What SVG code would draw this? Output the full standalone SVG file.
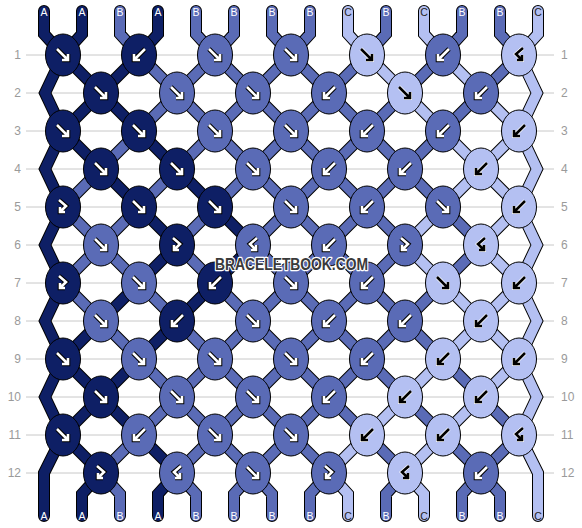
<svg xmlns="http://www.w3.org/2000/svg" xmlns:xlink="http://www.w3.org/1999/xlink" width="582" height="528" viewBox="0 0 582 528">
<style>
.grid line{stroke:#c8c8c8;stroke-width:1}
.num{font-family:"Liberation Sans",Arial,sans-serif;font-size:12px;fill:#9a9a9a}
.o{fill:none;stroke:#000;stroke-width:12;stroke-linecap:round;stroke-linejoin:miter}
.sA,.sB,.sC{fill:none;stroke-width:10;stroke-linecap:round;stroke-linejoin:miter}
.sA{stroke:#0e1f65}.sB{stroke:#5a6bb6}.sC{stroke:#b4c0f2}
.kA,.kB,.kC{stroke:#000;stroke-width:1}
.kA{fill:#0e1f65}.kB{fill:#5a6bb6}.kC{fill:#b4c0f2}
.ao{fill:none;stroke:#000;stroke-width:4.6;stroke-linejoin:miter;stroke-linecap:butt}
.aw{fill:none;stroke:#fff;stroke-width:2.6;stroke-linejoin:miter;stroke-linecap:butt}
.ko{fill:none;stroke:#fff;stroke-width:4;stroke-linejoin:miter;stroke-linecap:butt}
.kk{fill:none;stroke:#000;stroke-width:2.6;stroke-linejoin:miter;stroke-linecap:butt}
.lbl{font-family:"Liberation Sans",Arial,sans-serif;font-size:10.5px;text-anchor:middle;fill:#fff}
.lbl .d{fill:#222}
.wm{font-family:"Liberation Sans",Arial,sans-serif;font-weight:bold;font-size:16.5px;fill:#3a3a3a;stroke:#fff;stroke-width:2.5;paint-order:stroke;stroke-linejoin:round}
</style>
<defs>
<path id="af" d="M-6-6L5 5M-1 5H5V-1"/>
<path id="ab" d="M6-6L-5 5M1 5H-5V-1"/>
<path id="afb" d="M-4-7L3-1L-3 5M-3 0V5H2"/>
<path id="abf" d="M4-7L-3-1L3 5M3 0V5H-2"/>
<g id="fW"><use href="#af" class="ao"/><use href="#af" class="aw"/></g>
<g id="bW"><use href="#ab" class="ao"/><use href="#ab" class="aw"/></g>
<g id="fbW"><use href="#afb" class="ao"/><use href="#afb" class="aw"/></g>
<g id="bfW"><use href="#abf" class="ao"/><use href="#abf" class="aw"/></g>
<g id="fK"><use href="#af" class="ko"/><use href="#af" class="kk"/></g>
<g id="bK"><use href="#ab" class="ko"/><use href="#ab" class="kk"/></g>
<g id="fbK"><use href="#afb" class="ko"/><use href="#afb" class="kk"/></g>
<g id="bfK"><use href="#abf" class="ko"/><use href="#abf" class="kk"/></g>
<path id="pA" d="M44 11V34L63 55M82 11V34L63 55M158 11V34L139 55
M63 55L45 93L63 131L45 169L63 207L45 245L63 283L45 321L63 359L45 397L63 435L44 473V516
M63 55L101 93M139 55L101 93
M101 93L63 131M101 93L139 131
M63 131L101 169M139 131L177 169
M101 169L139 207M177 169L215 207
M139 207L177 245M215 207L253 245
M177 245L139 283M253 245L215 283
M139 283L101 321M215 283L177 321
M101 321L63 359M177 321L139 359
M63 359L101 397M139 359L101 397
M101 397L63 435M101 397L139 435
M63 435L101 473M139 435L177 473
M101 473L82 494V516M177 473L158 494V516"/>
<path id="pB" d="M120 11V34L139 55M196 11V34L215 55M234 11V34L215 55M272 11V34L291 55M310 11V34L291 55M386 11V34L367 55M462 11V34L443 55M500 11V34L519 55
M139 55L177 93M215 55L177 93M215 55L253 93M291 55L253 93M291 55L329 93M367 55L329 93M443 55L405 93M519 55L481 93
M177 93L139 131M177 93L215 131M253 93L215 131M253 93L291 131M329 93L291 131M329 93L367 131M405 93L367 131M481 93L443 131
M139 131L101 169M215 131L177 169M215 131L253 169M291 131L253 169M291 131L329 169M367 131L329 169M367 131L405 169M443 131L405 169
M101 169L63 207M177 169L139 207M253 169L215 207M253 169L291 207M329 169L291 207M329 169L367 207M405 169L367 207M405 169L443 207
M63 207L101 245M139 207L101 245M215 207L177 245M291 207L253 245M291 207L329 245M367 207L329 245M367 207L405 245M443 207L481 245
M101 245L63 283M101 245L139 283M177 245L215 283M253 245L291 283M329 245L291 283M329 245L367 283M405 245L367 283M481 245L443 283
M63 283L101 321M139 283L177 321M215 283L253 321M291 283L253 321M291 283L329 321M367 283L329 321M367 283L405 321M443 283L405 321
M101 321L139 359M177 321L215 359M253 321L215 359M253 321L291 359M329 321L291 359M329 321L367 359M405 321L367 359M405 321L443 359
M139 359L177 397M215 359L177 397M215 359L253 397M291 359L253 397M291 359L329 397M367 359L329 397M367 359L405 397M443 359L481 397
M177 397L139 435M177 397L215 435M253 397L215 435M253 397L291 435M329 397L291 435M329 397L367 435M405 397L443 435M481 397L519 435
M139 435L101 473M215 435L177 473M215 435L253 473M291 435L253 473M291 435L329 473M367 435L405 473M443 435L481 473M519 435L481 473
M101 473L120 494V516M177 473L196 494V516M253 473L234 494V516M253 473L272 494V516M329 473L310 494V516M405 473L386 494V516M481 473L462 494V516M481 473L500 494V516"/>
<path id="pC" d="M348 11V34L367 55M424 11V34L443 55M538 11V34L519 55
M519 55L537 93L519 131L537 169L519 207L537 245L519 283L537 321L519 359L537 397L519 435L538 473V516
M367 55L405 93M443 55L481 93
M405 93L443 131M481 93L519 131
M443 131L481 169M519 131L481 169
M481 169L443 207M481 169L519 207
M443 207L405 245M519 207L481 245
M405 245L443 283M481 245L519 283
M443 283L481 321M519 283L481 321
M481 321L443 359M481 321L519 359
M443 359L405 397M519 359L481 397
M405 397L367 435M481 397L443 435
M367 435L329 473M443 435L405 473
M329 473L348 494V516M405 473L424 494V516"/>
</defs>
<rect width="582" height="528" fill="#fff"/>
<g class="grid">
<line x1="26" x2="554" y1="55" y2="55"/><line x1="26" x2="554" y1="93" y2="93"/><line x1="26" x2="554" y1="131" y2="131"/><line x1="26" x2="554" y1="169" y2="169"/><line x1="26" x2="554" y1="207" y2="207"/><line x1="26" x2="554" y1="245" y2="245"/><line x1="26" x2="554" y1="283" y2="283"/><line x1="26" x2="554" y1="321" y2="321"/><line x1="26" x2="554" y1="359" y2="359"/><line x1="26" x2="554" y1="397" y2="397"/><line x1="26" x2="554" y1="435" y2="435"/><line x1="26" x2="554" y1="473" y2="473"/>
</g>
<g class="num" text-anchor="end">
<text x="21" y="59">1</text><text x="21" y="97">2</text><text x="21" y="135">3</text><text x="21" y="173">4</text><text x="21" y="211">5</text><text x="21" y="249">6</text><text x="21" y="287">7</text><text x="21" y="325">8</text><text x="21" y="363">9</text><text x="21" y="401">10</text><text x="21" y="439">11</text><text x="21" y="477">12</text>
</g>
<g class="num">
<text x="561" y="59">1</text><text x="561" y="97">2</text><text x="561" y="135">3</text><text x="561" y="173">4</text><text x="561" y="211">5</text><text x="561" y="249">6</text><text x="561" y="287">7</text><text x="561" y="325">8</text><text x="561" y="363">9</text><text x="561" y="401">10</text><text x="561" y="439">11</text><text x="561" y="477">12</text>
</g>
<g id="connectors">
<use href="#pA" class="o"/><use href="#pB" class="o"/><use href="#pC" class="o"/>
<use href="#pA" class="sA"/><use href="#pB" class="sB"/><use href="#pC" class="sC"/>
</g>
<g id="knots">
<g id="k1-1"><ellipse class="kA" cx="63" cy="55" rx="17.5" ry="21"/><use href="#fW" x="63" y="55"/></g>
<g id="k1-2"><ellipse class="kA" cx="139" cy="55" rx="17.5" ry="21"/><use href="#bW" x="139" y="55"/></g>
<g id="k1-3"><ellipse class="kB" cx="215" cy="55" rx="17.5" ry="21"/><use href="#fW" x="215" y="55"/></g>
<g id="k1-4"><ellipse class="kB" cx="291" cy="55" rx="17.5" ry="21"/><use href="#fW" x="291" y="55"/></g>
<g id="k1-5"><ellipse class="kC" cx="367" cy="55" rx="17.5" ry="21"/><use href="#fK" x="367" y="55"/></g>
<g id="k1-6"><ellipse class="kB" cx="443" cy="55" rx="17.5" ry="21"/><use href="#bW" x="443" y="55"/></g>
<g id="k1-7"><ellipse class="kC" cx="519" cy="55" rx="17.5" ry="21"/><use href="#bfK" x="519" y="55"/></g>

<g id="k2-1"><ellipse class="kA" cx="101" cy="93" rx="17.5" ry="21"/><use href="#fW" x="101" y="93"/></g>
<g id="k2-2"><ellipse class="kB" cx="177" cy="93" rx="17.5" ry="21"/><use href="#fW" x="177" y="93"/></g>
<g id="k2-3"><ellipse class="kB" cx="253" cy="93" rx="17.5" ry="21"/><use href="#fW" x="253" y="93"/></g>
<g id="k2-4"><ellipse class="kB" cx="329" cy="93" rx="17.5" ry="21"/><use href="#bW" x="329" y="93"/></g>
<g id="k2-5"><ellipse class="kC" cx="405" cy="93" rx="17.5" ry="21"/><use href="#fK" x="405" y="93"/></g>
<g id="k2-6"><ellipse class="kB" cx="481" cy="93" rx="17.5" ry="21"/><use href="#bW" x="481" y="93"/></g>

<g id="k3-1"><ellipse class="kA" cx="63" cy="131" rx="17.5" ry="21"/><use href="#fW" x="63" y="131"/></g>
<g id="k3-2"><ellipse class="kA" cx="139" cy="131" rx="17.5" ry="21"/><use href="#fW" x="139" y="131"/></g>
<g id="k3-3"><ellipse class="kB" cx="215" cy="131" rx="17.5" ry="21"/><use href="#fW" x="215" y="131"/></g>
<g id="k3-4"><ellipse class="kB" cx="291" cy="131" rx="17.5" ry="21"/><use href="#fW" x="291" y="131"/></g>
<g id="k3-5"><ellipse class="kB" cx="367" cy="131" rx="17.5" ry="21"/><use href="#bW" x="367" y="131"/></g>
<g id="k3-6"><ellipse class="kB" cx="443" cy="131" rx="17.5" ry="21"/><use href="#bW" x="443" y="131"/></g>
<g id="k3-7"><ellipse class="kC" cx="519" cy="131" rx="17.5" ry="21"/><use href="#bK" x="519" y="131"/></g>

<g id="k4-1"><ellipse class="kA" cx="101" cy="169" rx="17.5" ry="21"/><use href="#fW" x="101" y="169"/></g>
<g id="k4-2"><ellipse class="kA" cx="177" cy="169" rx="17.5" ry="21"/><use href="#fW" x="177" y="169"/></g>
<g id="k4-3"><ellipse class="kB" cx="253" cy="169" rx="17.5" ry="21"/><use href="#fW" x="253" y="169"/></g>
<g id="k4-4"><ellipse class="kB" cx="329" cy="169" rx="17.5" ry="21"/><use href="#bW" x="329" y="169"/></g>
<g id="k4-5"><ellipse class="kB" cx="405" cy="169" rx="17.5" ry="21"/><use href="#bW" x="405" y="169"/></g>
<g id="k4-6"><ellipse class="kC" cx="481" cy="169" rx="17.5" ry="21"/><use href="#bK" x="481" y="169"/></g>

<g id="k5-1"><ellipse class="kA" cx="63" cy="207" rx="17.5" ry="21"/><use href="#fbW" x="63" y="207"/></g>
<g id="k5-2"><ellipse class="kA" cx="139" cy="207" rx="17.5" ry="21"/><use href="#fW" x="139" y="207"/></g>
<g id="k5-3"><ellipse class="kA" cx="215" cy="207" rx="17.5" ry="21"/><use href="#fW" x="215" y="207"/></g>
<g id="k5-4"><ellipse class="kB" cx="291" cy="207" rx="17.5" ry="21"/><use href="#fW" x="291" y="207"/></g>
<g id="k5-5"><ellipse class="kB" cx="367" cy="207" rx="17.5" ry="21"/><use href="#bW" x="367" y="207"/></g>
<g id="k5-6"><ellipse class="kB" cx="443" cy="207" rx="17.5" ry="21"/><use href="#fW" x="443" y="207"/></g>
<g id="k5-7"><ellipse class="kC" cx="519" cy="207" rx="17.5" ry="21"/><use href="#bK" x="519" y="207"/></g>

<g id="k6-1"><ellipse class="kB" cx="101" cy="245" rx="17.5" ry="21"/><use href="#fW" x="101" y="245"/></g>
<g id="k6-2"><ellipse class="kA" cx="177" cy="245" rx="17.5" ry="21"/><use href="#fbW" x="177" y="245"/></g>
<g id="k6-3"><ellipse class="kB" cx="253" cy="245" rx="17.5" ry="21"/><use href="#bfW" x="253" y="245"/></g>
<g id="k6-4"><ellipse class="kB" cx="329" cy="245" rx="17.5" ry="21"/><use href="#bW" x="329" y="245"/></g>
<g id="k6-5"><ellipse class="kB" cx="405" cy="245" rx="17.5" ry="21"/><use href="#fbW" x="405" y="245"/></g>
<g id="k6-6"><ellipse class="kC" cx="481" cy="245" rx="17.5" ry="21"/><use href="#bfK" x="481" y="245"/></g>

<g id="k7-1"><ellipse class="kA" cx="63" cy="283" rx="17.5" ry="21"/><use href="#fbW" x="63" y="283"/></g>
<g id="k7-2"><ellipse class="kB" cx="139" cy="283" rx="17.5" ry="21"/><use href="#fW" x="139" y="283"/></g>
<g id="k7-3"><ellipse class="kA" cx="215" cy="283" rx="17.5" ry="21"/><use href="#bW" x="215" y="283"/></g>
<g id="k7-4"><ellipse class="kB" cx="291" cy="283" rx="17.5" ry="21"/><use href="#fW" x="291" y="283"/></g>
<g id="k7-5"><ellipse class="kB" cx="367" cy="283" rx="17.5" ry="21"/><use href="#bW" x="367" y="283"/></g>
<g id="k7-6"><ellipse class="kC" cx="443" cy="283" rx="17.5" ry="21"/><use href="#fK" x="443" y="283"/></g>
<g id="k7-7"><ellipse class="kC" cx="519" cy="283" rx="17.5" ry="21"/><use href="#bK" x="519" y="283"/></g>

<g id="k8-1"><ellipse class="kB" cx="101" cy="321" rx="17.5" ry="21"/><use href="#fW" x="101" y="321"/></g>
<g id="k8-2"><ellipse class="kA" cx="177" cy="321" rx="17.5" ry="21"/><use href="#bW" x="177" y="321"/></g>
<g id="k8-3"><ellipse class="kB" cx="253" cy="321" rx="17.5" ry="21"/><use href="#fW" x="253" y="321"/></g>
<g id="k8-4"><ellipse class="kB" cx="329" cy="321" rx="17.5" ry="21"/><use href="#bW" x="329" y="321"/></g>
<g id="k8-5"><ellipse class="kB" cx="405" cy="321" rx="17.5" ry="21"/><use href="#bW" x="405" y="321"/></g>
<g id="k8-6"><ellipse class="kC" cx="481" cy="321" rx="17.5" ry="21"/><use href="#bK" x="481" y="321"/></g>

<g id="k9-1"><ellipse class="kA" cx="63" cy="359" rx="17.5" ry="21"/><use href="#fW" x="63" y="359"/></g>
<g id="k9-2"><ellipse class="kB" cx="139" cy="359" rx="17.5" ry="21"/><use href="#fW" x="139" y="359"/></g>
<g id="k9-3"><ellipse class="kB" cx="215" cy="359" rx="17.5" ry="21"/><use href="#fW" x="215" y="359"/></g>
<g id="k9-4"><ellipse class="kB" cx="291" cy="359" rx="17.5" ry="21"/><use href="#fW" x="291" y="359"/></g>
<g id="k9-5"><ellipse class="kB" cx="367" cy="359" rx="17.5" ry="21"/><use href="#bW" x="367" y="359"/></g>
<g id="k9-6"><ellipse class="kC" cx="443" cy="359" rx="17.5" ry="21"/><use href="#bK" x="443" y="359"/></g>
<g id="k9-7"><ellipse class="kC" cx="519" cy="359" rx="17.5" ry="21"/><use href="#bK" x="519" y="359"/></g>

<g id="k10-1"><ellipse class="kA" cx="101" cy="397" rx="17.5" ry="21"/><use href="#fW" x="101" y="397"/></g>
<g id="k10-2"><ellipse class="kB" cx="177" cy="397" rx="17.5" ry="21"/><use href="#fW" x="177" y="397"/></g>
<g id="k10-3"><ellipse class="kB" cx="253" cy="397" rx="17.5" ry="21"/><use href="#fW" x="253" y="397"/></g>
<g id="k10-4"><ellipse class="kB" cx="329" cy="397" rx="17.5" ry="21"/><use href="#bW" x="329" y="397"/></g>
<g id="k10-5"><ellipse class="kC" cx="405" cy="397" rx="17.5" ry="21"/><use href="#bK" x="405" y="397"/></g>
<g id="k10-6"><ellipse class="kC" cx="481" cy="397" rx="17.5" ry="21"/><use href="#bK" x="481" y="397"/></g>

<g id="k11-1"><ellipse class="kA" cx="63" cy="435" rx="17.5" ry="21"/><use href="#fW" x="63" y="435"/></g>
<g id="k11-2"><ellipse class="kB" cx="139" cy="435" rx="17.5" ry="21"/><use href="#bW" x="139" y="435"/></g>
<g id="k11-3"><ellipse class="kB" cx="215" cy="435" rx="17.5" ry="21"/><use href="#fW" x="215" y="435"/></g>
<g id="k11-4"><ellipse class="kB" cx="291" cy="435" rx="17.5" ry="21"/><use href="#fW" x="291" y="435"/></g>
<g id="k11-5"><ellipse class="kC" cx="367" cy="435" rx="17.5" ry="21"/><use href="#bK" x="367" y="435"/></g>
<g id="k11-6"><ellipse class="kC" cx="443" cy="435" rx="17.5" ry="21"/><use href="#bK" x="443" y="435"/></g>
<g id="k11-7"><ellipse class="kC" cx="519" cy="435" rx="17.5" ry="21"/><use href="#bfK" x="519" y="435"/></g>

<g id="k12-1"><ellipse class="kA" cx="101" cy="473" rx="17.5" ry="21"/><use href="#fbW" x="101" y="473"/></g>
<g id="k12-2"><ellipse class="kB" cx="177" cy="473" rx="17.5" ry="21"/><use href="#bfW" x="177" y="473"/></g>
<g id="k12-3"><ellipse class="kB" cx="253" cy="473" rx="17.5" ry="21"/><use href="#fW" x="253" y="473"/></g>
<g id="k12-4"><ellipse class="kB" cx="329" cy="473" rx="17.5" ry="21"/><use href="#fbW" x="329" y="473"/></g>
<g id="k12-5"><ellipse class="kC" cx="405" cy="473" rx="17.5" ry="21"/><use href="#bfK" x="405" y="473"/></g>
<g id="k12-6"><ellipse class="kB" cx="481" cy="473" rx="17.5" ry="21"/><use href="#bW" x="481" y="473"/></g>
</g>
<g id="top-labels" class="lbl">
<text x="44" y="16">A</text><text x="82" y="16">A</text><text x="120" y="16">B</text><text x="158" y="16">A</text><text x="196" y="16">B</text><text x="234" y="16">B</text><text x="272" y="16">B</text><text x="310" y="16">B</text><text class="d" x="348" y="16">C</text><text x="386" y="16">B</text><text class="d" x="424" y="16">C</text><text x="462" y="16">B</text><text x="500" y="16">B</text><text class="d" x="538" y="16">C</text>
</g>
<g id="bottom-labels" class="lbl">
<text x="44" y="520">A</text><text x="82" y="520">A</text><text x="120" y="520">B</text><text x="158" y="520">A</text><text x="196" y="520">B</text><text x="234" y="520">B</text><text x="272" y="520">B</text><text x="310" y="520">B</text><text class="d" x="348" y="520">C</text><text x="386" y="520">B</text><text class="d" x="424" y="520">C</text><text x="462" y="520">B</text><text x="500" y="520">B</text><text class="d" x="538" y="520">C</text>
</g>
<g id="watermark"><text class="wm" x="215" y="270" textLength="153" lengthAdjust="spacingAndGlyphs">BRACELETBOOK.COM</text></g>
</svg>
